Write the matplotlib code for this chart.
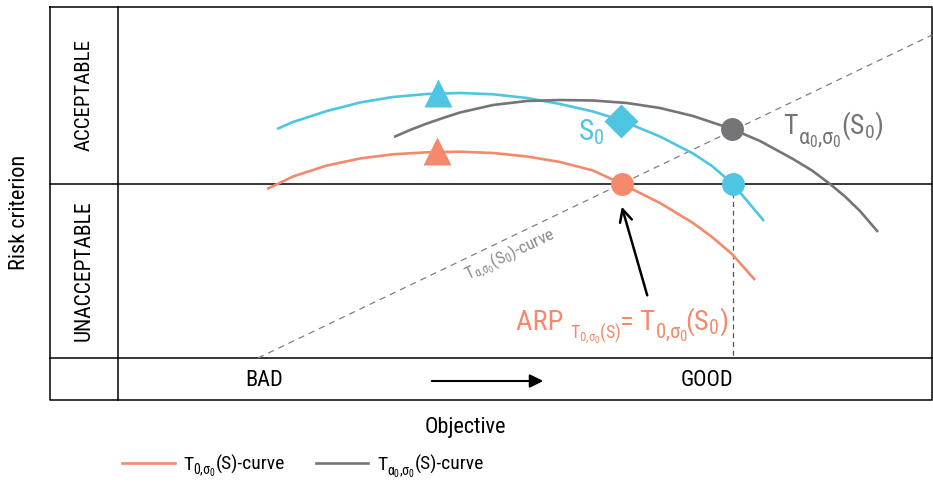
import numpy as np
import matplotlib
matplotlib.use('Agg')
import matplotlib.pyplot as plt
from matplotlib import font_manager

# pick a narrow font if one is installed
names = {f.name for f in font_manager.fontManager.ttflist}
dv_cond = any(f.name == 'DejaVu Sans' and f.stretch == 'condensed'
              for f in font_manager.fontManager.ttflist)
main_font = 'DejaVu Sans'
stretch = 'normal'
for cand in ['Roboto Condensed', 'Liberation Sans Narrow']:
    if cand in names:
        main_font = cand
        break
else:
    if dv_cond:
        stretch = 'condensed'
    elif 'Roboto' in names:
        main_font = 'Roboto'

plt.rcParams['font.family'] = [main_font, 'DejaVu Sans']
plt.rcParams['font.stretch'] = stretch
plt.rcParams['mathtext.fontset'] = 'custom'
plt.rcParams['mathtext.rm'] = main_font
plt.rcParams['mathtext.it'] = main_font
plt.rcParams['mathtext.bf'] = main_font

orange = '#f4896b'
cyan = '#4fc6e1'
grey = '#747579'

# curves (x = objective, y = risk, pixel units, y down)
orange_x = [267, 293, 327, 360, 393, 427, 460, 493, 527, 560, 593, 622, 660, 693, 712, 732, 755]
orange_y = [189, 176.5, 165.5, 158.5, 154.3, 152.3, 151.7, 153, 156.5, 162, 170.5, 184, 203, 223, 237, 254, 280]
cyan_x = [277, 293, 327, 360, 393, 427, 460, 493, 527, 560, 593, 620, 660, 693, 712, 733, 764]
cyan_y = [129, 122, 111, 102.5, 97, 94, 93, 94.3, 98, 104, 111.5, 120, 136.5, 153.5, 166, 184, 221]
grey_x = [394, 410, 427, 443, 460, 493, 527, 560, 593, 627, 660, 693, 732, 760, 793, 812, 830, 845, 860, 878]
grey_y = [137, 130, 123.5, 118, 112.5, 105, 101, 100, 100.5, 103, 108, 116, 129, 141, 159, 170.5, 184, 196.5, 211, 232]

# T_alpha curve (dashed diagonal)
diag_x = [258, 932]
diag_y = [358, 35]

# markers
tri_x = [437, 438]
tri_y = [151, 93]
tri_c = [orange, cyan]
diamond = (621, 121)
circ_x = [622, 733, 732]
circ_y = [184, 184, 129]
circ_c = [orange, cyan, grey]

threshold = 184
good_x = 733

fig = plt.figure(figsize=(9.33, 4.82), dpi=100)
ax = fig.add_axes([0, 0, 1, 1])
ax.set_xlim(0, 933)
ax.set_ylim(482, 0)
ax.axis('off')


def chain(x, y, pieces, color='black'):
    # write text pieces one after another on a common baseline
    prev = None
    for s, dy, fs, dx in pieces:
        if prev is None:
            prev = ax.text(x + dx, y + dy, s, fontsize=fs, color=color, va='baseline')
        else:
            prev = ax.annotate(s, xy=(1, y + dy), xycoords=(prev, 'data'),
                               xytext=(dx, 0), textcoords='offset pixels',
                               fontsize=fs, color=color, va='baseline', ha='left')


# frame
L, R, T, B, PB = 50, 932, 7, 400, 358
ax.plot([L, R, R, L, L], [T, T, B, B, T], color='black', lw=1.1)
ax.plot([118, 118], [T, B], color='black', lw=1.1)
ax.plot([L, R], [PB, PB], color='black', lw=1.1)
ax.plot([L, R], [threshold, threshold], color='black', lw=1.1)

ax.plot(diag_x, diag_y, color='#808080', lw=0.9, ls=(0, (5, 4)))
ax.plot([good_x, good_x], [threshold, PB], color='#555555', lw=0.9, ls=(0, (4, 3)))

kw = dict(lw=1.9, solid_capstyle='butt', solid_joinstyle='round')
ax.plot(orange_x, orange_y, color=orange, **kw)
ax.plot(cyan_x, cyan_y, color=cyan, **kw)
ax.plot(grey_x, grey_y, color=grey, **kw)

for x, y, c in zip(tri_x, tri_y, tri_c):
    ax.plot(x, y, marker='^', ms=20, color=c, mec='none', zorder=5)
ax.plot(*diamond, marker='D', ms=17, color=cyan, mec='none', zorder=5)
for x, y, c in zip(circ_x, circ_y, circ_c):
    ax.plot(x, y, marker='o', ms=16.5, color=c, mec='none', zorder=5)

ax.annotate('', xy=(621, 204), xytext=(648, 298),
            arrowprops=dict(arrowstyle='->', color='black', lw=1.8,
                            mutation_scale=22))

# labels in the panel
ax.text(578, 140, r'S$_0$', color=cyan, fontsize=21, va='baseline')
chain(783, 134, [('T', 0, 20, 0), (r'$\alpha_0{,}\sigma_0$', 10, 16, 0),
                 (r'(S$_0$)', 0, 20, 0)], color=grey)
ax.text(510, 255, r'T$_{\alpha{,}\sigma_0}$(S$_0$)-curve', color='#8a8a8a',
        fontsize=12.5, rotation=25.5, ha='center', va='center')
chain(516, 330, [('ARP ', 0, 20.5, 0), (r'T$_{0{,}\sigma_0}$(S)', 9, 13, 0),
                 ('= T', 0, 20.5, -1), (r'0,$\sigma_0$', 8, 15, 0),
                 (r'(S$_0$)', 0, 20.5, -3)], color=orange)

# bottom row
ax.text(264, 381, 'BAD', fontsize=16, ha='center', va='center')
ax.text(707, 381, 'GOOD', fontsize=16, ha='center', va='center')
ax.annotate('', xy=(546, 381), xytext=(429, 381),
            arrowprops=dict(arrowstyle='-|>', color='black', lw=1.5,
                            mutation_scale=20))

# left column
ax.text(84, 95, 'ACCEPTABLE', fontsize=15, rotation=90, ha='center', va='center')
ax.text(84, 271, 'UNACCEPTABLE', fontsize=15.5, rotation=90, ha='center', va='center')
ax.text(20, 212, 'Risk criterion', fontsize=16, rotation=90, ha='center', va='center')
ax.text(465, 428, 'Objective', fontsize=16, ha='center', va='center')

# legend
ax.plot([122, 175], [463, 463], color=orange, lw=1.9)
chain(183, 470, [('T', 0, 14, 0), (r'0,$\sigma_0$', 5, 10, 0), ('(S)-curve', 0, 14, 0)])
ax.plot([316, 368], [463, 463], color=grey, lw=1.9)
chain(377, 470, [('T', 0, 14, 0), (r'$\alpha_0{,}\sigma_0$', 6, 10, 0), ('(S)-curve', 0, 14, 0)])

fig.savefig('out.png', dpi=100)
